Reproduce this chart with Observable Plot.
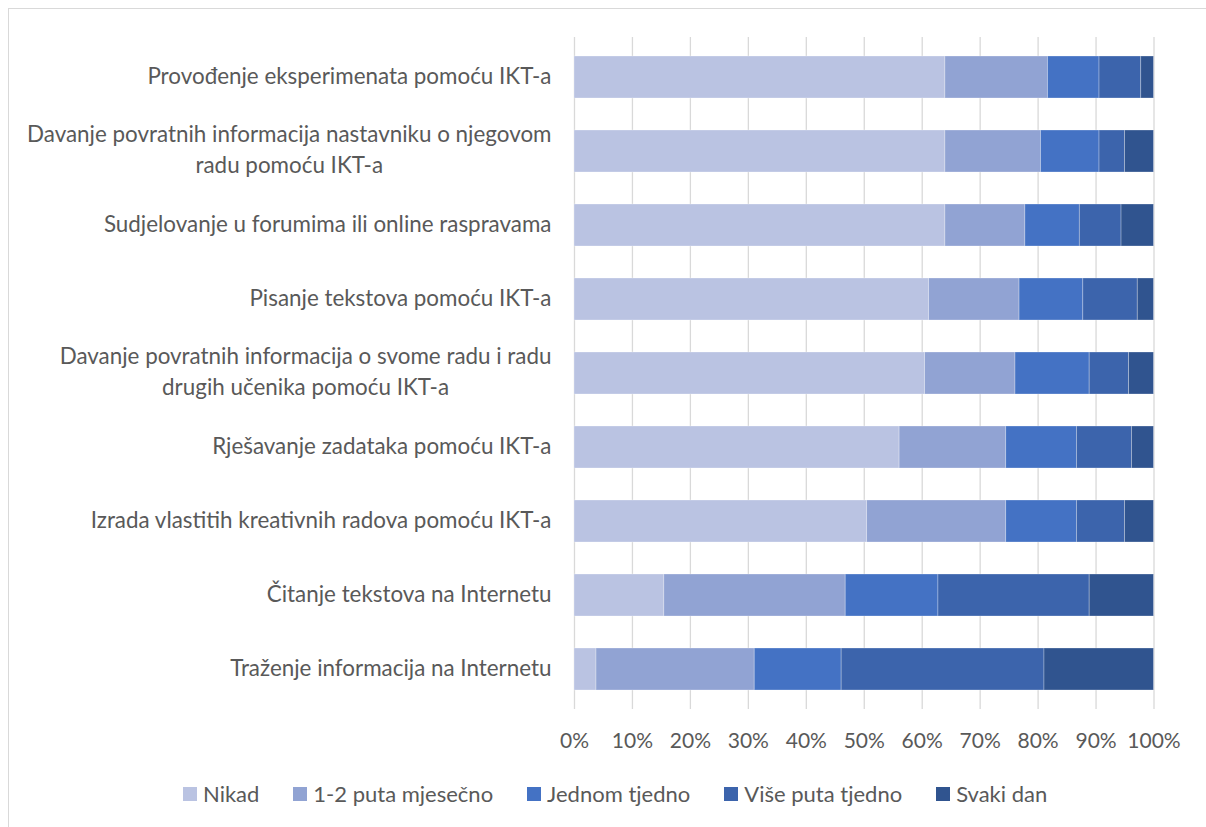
<!DOCTYPE html>
<html>
<head>
<meta charset="utf-8">
<script src="https://cdn.jsdelivr.net/npm/d3@7"></script>
<script src="https://cdn.jsdelivr.net/npm/@observablehq/plot@0.6"></script>
<style>
  html, body { margin: 0; padding: 0; background: #fff; overflow: hidden; width: 1206px; height: 827px; }
  #frame { position: absolute; left: 8px; top: 8px; width: 1230px; height: 850px; border: 1px solid #d9d9d9; box-sizing: border-box; }
  #chart { position: absolute; left: 0; top: 0; }
  #legend { position: absolute; left: 183px; top: 780px; display: flex; align-items: center; font-family: Lato, sans-serif; font-size: 22px; color: #595959; white-space: nowrap; }
  .item { display: flex; align-items: center; margin-right: 34px; }
  .sw { width: 14px; height: 14px; margin-right: 6px; }
</style>
</head>
<body>
<div id="frame"></div>
<div id="chart"></div>
<div id="legend"></div>
<script>
const categories = [
  "Provođenje eksperimenata pomoću IKT-a",
  "Davanje povratnih informacija nastavniku o njegovom\nradu pomoću IKT-a",
  "Sudjelovanje u forumima ili online raspravama",
  "Pisanje tekstova pomoću IKT-a",
  "Davanje povratnih informacija o svome radu i radu\ndrugih učenika pomoću IKT-a",
  "Rješavanje zadataka pomoću IKT-a",
  "Izrada vlastitih kreativnih radova pomoću IKT-a",
  "Čitanje tekstova na Internetu",
  "Traženje informacija na Internetu"
];
const seriesNames = ["Nikad", "1-2 puta mjesečno", "Jednom tjedno", "Više puta tjedno", "Svaki dan"];
const nikad     = [64.0, 64.0, 64.0, 61.2, 60.5, 56.1, 50.5, 15.5,  3.8];
const mjesecno  = [17.7, 16.5, 13.8, 15.6, 15.6, 18.4, 24.0, 31.3, 27.3];
const jednom    = [ 8.9, 10.1,  9.4, 11.0, 12.8, 12.2, 12.2, 16.0, 15.0];
const viseputa  = [ 7.2,  4.4,  7.2,  9.4,  6.8,  9.5,  8.3, 26.1, 35.0];
const svakidan  = [ 2.2,  5.0,  5.6,  2.8,  4.3,  3.8,  5.0, 11.1, 18.9];
const xTicks = [0, 10, 20, 30, 40, 50, 60, 70, 80, 90, 100];
const colors = ["#bac3e2", "#91a3d3", "#4472c4", "#3c64ac", "#30548f"];

const seriesValues = [nikad, mjesecno, jednom, viseputa, svakidan];
const data = [];
categories.forEach((c, i) => {
  seriesNames.forEach((s, j) => {
    data.push({category: c, series: s, value: seriesValues[j][i]});
  });
});

const plot = Plot.plot({
  width: 1206,
  height: 760,
  marginLeft: 574,
  marginRight: 52.5,
  marginTop: 37,
  marginBottom: 51,
  style: {fontFamily: "Lato, sans-serif", color: "#595959", background: "transparent"},
  x: {domain: [0, 100]},
  y: {domain: categories, paddingInner: 0.428, paddingOuter: 0.214},
  color: {domain: seriesNames, range: colors},
  marks: [
    Plot.gridX(xTicks, {stroke: "#d9d9d9", strokeOpacity: 1, strokeWidth: 1.3}),
    Plot.barX(data, {x: "value", y: "category", fill: "series", stroke: "#ffffff", strokeOpacity: 0.35, strokeWidth: 0.8}),
    Plot.axisX(xTicks, {tickSize: 0, tickPadding: 24, fontSize: 21, tickFormat: d => d + "%", fill: "#595959", label: null}),
    Plot.axisY({tickSize: 0, tickPadding: 23, fontSize: 22.4, lineHeight: 1.38, dy: -3.5, fill: "#595959", label: null})
  ]
});
document.getElementById("chart").appendChild(plot);

// center multi-line category labels as a block, right-aligned at the axis
plot.querySelectorAll('g[aria-label="y-axis tick label"] text').forEach(t => {
  if (t.querySelectorAll("tspan").length > 1) {
    const w = t.getBBox().width;
    t.setAttribute("text-anchor", "middle");
    const tr = t.getAttribute("transform") || "";
    t.setAttribute("transform", tr + ` translate(${-w / 2},0)`);
  }
});

const legend = document.getElementById("legend");
seriesNames.forEach((s, j) => {
  const it = document.createElement("div");
  it.className = "item";
  const sw = document.createElement("div");
  sw.className = "sw";
  sw.style.background = colors[j];
  const tx = document.createElement("span");
  tx.textContent = s;
  it.appendChild(sw);
  it.appendChild(tx);
  legend.appendChild(it);
});
</script>
</body>
</html>
